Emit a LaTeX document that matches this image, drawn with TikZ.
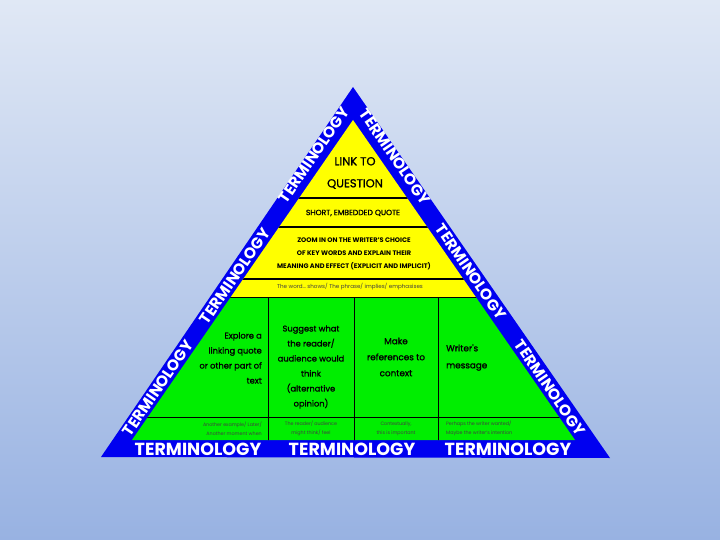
\documentclass[tikz,border=0pt]{standalone}
\usepackage{fontspec}
\setmainfont{Poppins}
\newfontfamily\medfont{Poppins}[FakeBold=1.3]
\definecolor{bgtop}{RGB}{224,232,245}
\definecolor{bgbot}{RGB}{152,178,226}
\definecolor{triblue}{RGB}{0,0,240}
\definecolor{triyellow}{RGB}{255,255,0}
\definecolor{trigreen}{RGB}{0,238,0}
\begin{document}
\begin{tikzpicture}[x=1pt,y=-1pt,
  term/.style={text=white,font=\bfseries\fontsize{17.5}{17.5}\selectfont,inner sep=0pt},
  sideterm/.style={text=white,font=\bfseries\fontsize{15.5}{15.5}\selectfont,inner sep=0pt},
  head/.style={text=black,align=center,inner sep=0pt},
  cell/.style={text=black,font=\medfont\fontsize{8.3}{15}\selectfont,inner sep=0pt},
  tiny/.style={text=black!75,font=\fontsize{4.8}{9}\selectfont,inner sep=0pt},
  rule/.style={black,line width=1.4pt},
  thinrule/.style={black,line width=0.8pt}]
\shade[top color=bgtop,bottom color=bgbot] (0,0) rectangle (720,540);
\useasboundingbox (0,0) rectangle (720,540);
% outer and inner triangles
\coordinate (oA) at (353,87);
\coordinate (oL) at (101,457);
\coordinate (oR) at (610,458);
\coordinate (iA) at (353,120);
\coordinate (iL) at (132,440);
\coordinate (iR) at (575,440);
\fill[triblue] (oA) -- (oL) -- (oR) -- cycle;
\begin{scope}
  \clip (iA) -- (iL) -- (iR) -- cycle;
  \fill[triyellow] (0,100) rectangle (720,297);
  \fill[trigreen] (0,297) rectangle (720,441);
  \draw[rule] (0,198) -- (720,198);
  \draw[rule] (0,227) -- (720,227);
  \draw[rule] (0,279) -- (720,279);
  \draw[thinrule] (0,297) -- (720,297);
  \draw[thinrule] (0,417) -- (720,417);
  \draw[thinrule] (268,297) -- (268,441);
  \draw[thinrule] (354,297) -- (354,441);
  \draw[thinrule] (438,297) -- (438,441);
\end{scope}
% headings in yellow part
\node[head,font=\medfont\fontsize{11.5}{22}\selectfont] (link) at (355,173) {LINK TO\\QUESTION};
\node[head,font=\medfont\fontsize{7.6}{10}\selectfont] (short) at (353,213) {SHORT, EMBEDDED QUOTE};
\node[head,font=\bfseries\fontsize{6.6}{12.8}\selectfont] (zoom) at (354,254) {ZOOM IN ON THE WRITER'S CHOICE\\OF KEY WORDS AND EXPLAIN THEIR\\MEANING AND EFFECT (EXPLICIT AND IMPLICIT)};
\node[tiny,font=\fontsize{5.6}{9}\selectfont] (word) at (350,287) {The word… shows/ The phrase/ implies/ emphasises};
% green cells
\node[cell,align=right,anchor=east] (explore) at (262,358) {Explore a\\linking quote\\or other part of\\text};
\node[cell,align=center] (suggest) at (311,367) {Suggest what\\the reader/\\audience would\\think\\(alternative\\opinion)};
\node[cell,align=center,font=\medfont\fontsize{8.8}{16}\selectfont] (context) at (396,357) {Make\\references to\\context};
\node[cell,align=left,anchor=west,font=\medfont\fontsize{8.8}{17}\selectfont] (writer) at (446,357.5) {Writer's\\message};
% bottom tiny row
\node[tiny,align=right,anchor=east] (ex) at (262,428.5) {Another example/ Later/\\Another moment when};
\node[tiny,align=center] (rd) at (311,428.5) {The reader/ audience\\might think/ feel};
\node[tiny,align=center] (ctx) at (396,428.5) {Contextually,\\this is important};
\node[tiny,align=left,anchor=west] (wr) at (446,428.5) {Perhaps the writer wanted/\\Maybe the writer's intention};
% terminology labels
\node[term] (tb1) at (198,449) {TERMINOLOGY};
\node[term] (tb2) at (352,449) {TERMINOLOGY};
\node[term] (tb3) at (508,449) {TERMINOLOGY};
\node[sideterm,rotate=55.7] (tl1) at (158,388) {TERMINOLOGY};
\node[sideterm,rotate=55.7] (tl2) at (235,276) {TERMINOLOGY};
\node[sideterm,rotate=55.7] (tl3) at (314,155) {TERMINOLOGY};
\node[sideterm,rotate=-55.7] (tr1) at (395,157) {TERMINOLOGY};
\node[sideterm,rotate=-55.7] (tr2) at (471,272) {TERMINOLOGY};
\node[sideterm,rotate=-55.7] (tr3) at (550,388) {TERMINOLOGY};
\end{tikzpicture}
\end{document}
